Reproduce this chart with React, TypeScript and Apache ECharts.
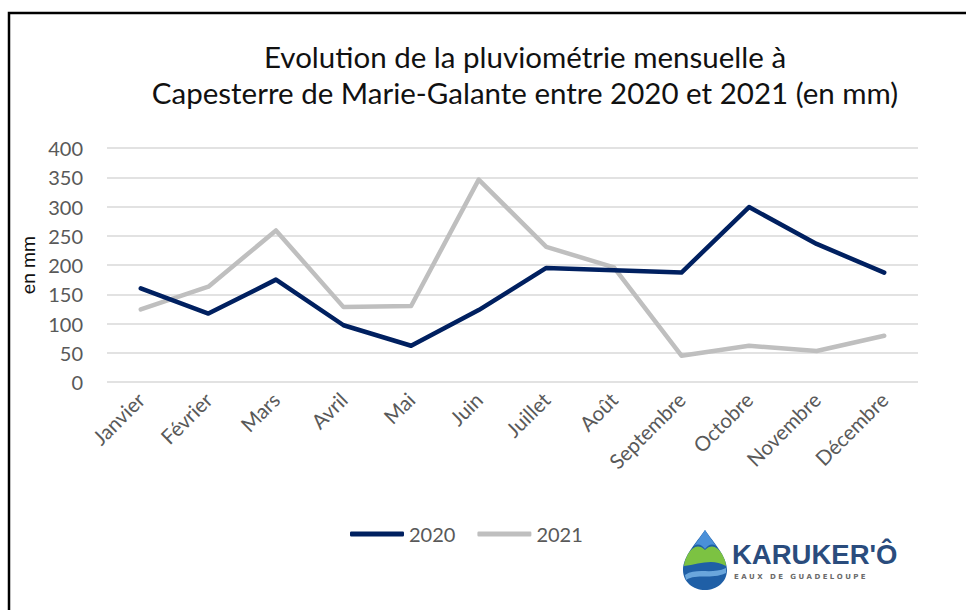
import React, { useEffect, useRef } from "react";
import * as echarts from "echarts";

const months = ["Janvier", "Février", "Mars", "Avril", "Mai", "Juin", "Juillet", "Août", "Septembre", "Octobre", "Novembre", "Décembre"];
const values2020 = [160, 117, 175, 97, 62, 123, 195, 191, 187, 299, 236, 187];
const values2021 = [124, 163, 259, 128, 130, 346, 231, 196, 45, 62, 53, 79];
const titleLines = ["Evolution de la pluviométrie mensuelle à", "Capesterre de Marie-Galante entre 2020 et 2021 (en mm)"];

const FONT = "Lato, 'Open Sans', sans-serif";

let registered = false;
function registerShapes() {
  if (registered) return;
  registered = true;
  echarts.graphic.registerShape(
    "dropBody",
    echarts.graphic.extendPath("M22,0 C30,12 44,26 44,40 C44,52 34,60 22,60 C10,60 0,52 0,40 C0,26 14,12 22,0 Z", {})
  );
  echarts.graphic.registerShape(
    "dropGreen",
    echarts.graphic.extendPath("M5,24 C10,16 16,14 22,20 C28,14 34,16 39,24 C41,28 43,32 43,36 C30,28 16,34 1,36 C1,32 3,28 5,24 Z", {})
  );
  echarts.graphic.registerShape(
    "dropTop",
    echarts.graphic.extendPath("M22,0 C25,5 29,10 33,16 C29,13 25,15 22,19 C19,15 15,13 11,16 C15,10 19,5 22,0 Z", {})
  );
  echarts.graphic.registerShape(
    "dropWave",
    echarts.graphic.extendPath("M2,45 C14,37 28,45 43,38 L43,43 C28,50 14,43 3,50 Z", {})
  );
}

export default function App() {
  const ref = useRef<HTMLDivElement>(null);
  useEffect(() => {
    document.body.style.margin = "0";
    registerShapes();
    const chart = echarts.init(ref.current!, null, { renderer: "svg" });
    chart.setOption({
      animation: false,
      backgroundColor: "#ffffff",
      title: {
        text: titleLines.join("\n"),
        left: 520,
        top: 33,
        textAlign: "center",
        textStyle: { fontFamily: FONT, fontSize: 29.5, fontWeight: "normal", color: "#111111", lineHeight: 36 },
      },
      legend: {
        data: ["2020", "2021"],
        left: 345,
        top: 519,
        icon: "roundRect",
        itemWidth: 54,
        itemHeight: 5,
        itemGap: 22,
        textStyle: { fontFamily: FONT, fontSize: 20, color: "#595959" },
      },
      grid: { left: 107, right: 48, top: 148, bottom: 228 },
      xAxis: {
        type: "category",
        data: months,
        boundaryGap: true,
        axisLine: { show: false },
        axisTick: { show: false },
        axisLabel: { rotate: 45, margin: 14, fontFamily: FONT, fontSize: 20.5, color: "#595959", interval: 0 },
      },
      yAxis: {
        type: "value",
        min: 0,
        max: 400,
        interval: 50,
        name: "en mm",
        nameLocation: "middle",
        nameRotate: 90,
        nameGap: 68,
        nameTextStyle: { fontFamily: FONT, fontSize: 19.5, color: "#111111" },
        axisLine: { show: false },
        axisTick: { show: false },
        axisLabel: { margin: 24, fontFamily: FONT, fontSize: 20, color: "#595959" },
        splitLine: { lineStyle: { color: "#D9D9D9", width: 1.5 } },
      },
      series: [
        {
          name: "2020",
          type: "line",
          data: values2020,
          symbol: "none",
          lineStyle: { color: "#002060", width: 4.5, cap: "round", join: "round" },
          itemStyle: { color: "#002060" },
          z: 3,
        },
        {
          name: "2021",
          type: "line",
          data: values2021,
          symbol: "none",
          lineStyle: { color: "#BFBFBF", width: 4.5, cap: "round", join: "round" },
          itemStyle: { color: "#BFBFBF" },
          z: 2,
        },
      ],
      graphic: [
        {
          type: "rect",
          shape: { x: 9, y: 13, width: 1000, height: 700 },
          style: { fill: "none", stroke: "#000000", lineWidth: 2.5 },
          silent: true,
        },
        {
          type: "group",
          x: 683,
          y: 530,
          children: [
            { type: "dropBody", style: { fill: "#1f5fa6" } },
            { type: "dropGreen", style: { fill: "#7cc242" } },
            { type: "dropTop", style: { fill: "#4a90d9" } },
            { type: "dropWave", style: { fill: "#6aa6dc" } },
          ],
        },
        {
          type: "text",
          x: 732,
          y: 568,
          style: {
            text: "KARUKER'Ô",
            fontFamily: "'Liberation Sans', Arial, sans-serif",
            fontWeight: "bold",
            fontSize: 27.5,
            fill: "#2a4c7d",
            textVerticalAlign: "bottom",
          },
        },
        {
          type: "text",
          x: 734,
          y: 573,
          style: {
            text: "E A U X   D E   G U A D E L O U P E",
            fontFamily: "'DejaVu Sans', sans-serif",
            fontWeight: "bold",
            fontSize: 7,
            fill: "#6b6b6b",
            textVerticalAlign: "top",
          },
        },
      ],
    });
    return () => chart.dispose();
  }, []);
  return <div ref={ref} style={{ width: 966, height: 610 }} />;
}
